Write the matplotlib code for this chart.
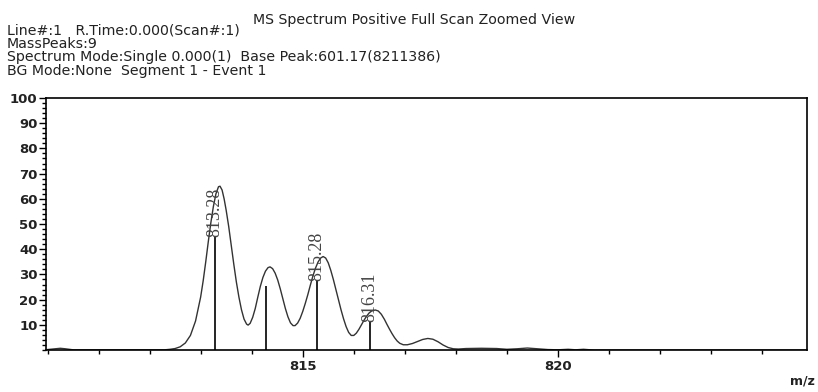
import numpy as np
import matplotlib.pyplot as plt
from matplotlib.ticker import MultipleLocator

# profile curve (m/z, relative intensity)
profile_mz = [810.00, 810.15, 810.25, 810.35, 810.50, 812.30, 812.40,
              812.50, 812.60, 812.70, 812.80, 812.90, 813.00, 813.05, 813.10, 813.15, 813.20,
              813.25, 813.30, 813.35, 813.38, 813.42, 813.46, 813.50, 813.55, 813.60, 813.65,
              813.70, 813.75, 813.80, 813.85, 813.90, 813.93, 813.97, 814.02, 814.07, 814.12,
              814.17, 814.22, 814.27, 814.32, 814.36, 814.41, 814.46, 814.51, 814.56, 814.61,
              814.66, 814.71, 814.76, 814.81, 814.85, 814.90, 814.95, 815.00, 815.05, 815.10,
              815.15, 815.20, 815.25, 815.30, 815.35, 815.40, 815.45, 815.50, 815.55, 815.60,
              815.65, 815.70, 815.75, 815.80, 815.85, 815.90, 815.95, 816.00, 816.05, 816.10,
              816.15, 816.20, 816.25, 816.30, 816.35, 816.42, 816.48, 816.54, 816.60, 816.65,
              816.70, 816.75, 816.80, 816.85, 816.90, 816.97, 817.05, 817.15, 817.25, 817.35,
              817.45, 817.55, 817.65, 817.75, 817.85, 817.95, 818.05, 818.20, 818.50, 818.80,
              819.00, 819.20, 819.40, 819.60, 819.80, 820.00, 820.20, 820.35, 820.50, 820.70,
              824.90]
profile_int = [0.2, 0.5, 0.7, 0.5, 0.1, 0.1, 0.3,
               0.6, 1.3, 2.8, 5.8, 11.5, 21.0, 27.5, 35.0, 43.0, 50.5,
               57.0, 62.0, 64.8, 65.0, 63.5, 60.0, 55.5, 49.0, 41.5, 34.0,
               27.0, 21.0, 16.0, 12.3, 10.3, 9.9, 10.6, 13.0, 16.5, 21.0,
               25.3, 28.8, 31.3, 32.7, 33.0, 32.3, 30.5, 27.8, 24.3, 20.4,
               16.5, 13.2, 10.8, 9.7, 9.7, 10.7, 12.6, 15.3, 18.5, 22.0,
               25.8, 29.4, 32.5, 34.9, 36.5, 37.1, 36.5, 34.6, 31.6, 28.0,
               24.0, 20.0, 16.0, 12.4, 9.3, 7.0, 5.8, 5.8, 6.7, 8.2,
               10.0, 11.8, 13.4, 14.7, 15.5, 15.9, 15.5, 14.2, 12.2, 10.2,
               8.3, 6.5, 4.9, 3.6, 2.7, 2.1, 2.1, 2.6, 3.4, 4.2,
               4.6, 4.3, 3.3, 2.0, 1.0, 0.5, 0.4, 0.6, 0.7, 0.6,
               0.3, 0.5, 0.8, 0.5, 0.2, 0.1, 0.3, 0.1, 0.3, 0.0,
               0.0]

# centroid peaks
peak_mz = [813.28, 814.29, 815.28, 816.31]
peak_int = [44.8, 25.4, 27.4, 11.2]
peak_labels = ["813.28", "", "815.28", "816.31"]

header_lines = ["Line#:1   R.Time:0.000(Scan#:1)",
                "MassPeaks:9",
                "Spectrum Mode:Single 0.000(1)  Base Peak:601.17(8211386)",
                "BG Mode:None  Segment 1 - Event 1"]
title = "MS Spectrum Positive Full Scan Zoomed View"

fig = plt.figure(figsize=(8.18, 3.92), dpi=100)
ax = fig.add_axes([0.0562, 0.107, 0.9304, 0.643])

ax.plot(profile_mz, profile_int, color="#333333", lw=1.0, solid_joinstyle="round")
ax.vlines(peak_mz, 0, peak_int, color="black", lw=1.2)
for x, y, s in zip(peak_mz, peak_int, peak_labels):
    if s:
        ax.text(x, y, s, rotation=90, ha="center", va="bottom",
                family="Liberation Serif", fontsize=13, color="#444444")

ax.set_xlim(809.97, 824.88)
ax.set_ylim(0, 100)
ax.set_xticks([815, 820])
ax.xaxis.set_minor_locator(MultipleLocator(1))
ax.set_yticks(range(10, 101, 10))
ax.yaxis.set_minor_locator(MultipleLocator(2))
ax.tick_params(axis="both", which="major", direction="out", length=5, width=1,
               labelsize=9.5)
ax.tick_params(axis="both", which="minor", direction="out", length=3, width=1)
ax.tick_params(axis="x", pad=2)
ax.tick_params(axis="y", pad=1)
for lab in ax.get_xticklabels() + ax.get_yticklabels():
    lab.set_fontweight("bold")
    lab.set_color("#222222")
for sp in ax.spines.values():
    sp.set_linewidth(1.2)

W, H = 818, 392
# header: first line beside the title, the rest as one block below
fig.text(7 / W, 1 - 31 / H, header_lines[0], fontsize=10.2, va="center", ha="left",
         color="#222222")
fig.text(7 / W, 1 - 37 / H, "\n".join(header_lines[1:]), fontsize=10.2, va="top",
         ha="left", linespacing=0.95, color="#222222")
fig.text(253 / W, 1 - 20 / H, title, fontsize=10.2, va="center", ha="left", color="#222222")
fig.text(815 / W, 1 - 381 / H, "m/z", fontsize=9, fontweight="bold", va="center",
         ha="right", color="#222222")

fig.savefig("out.png", dpi=100)
